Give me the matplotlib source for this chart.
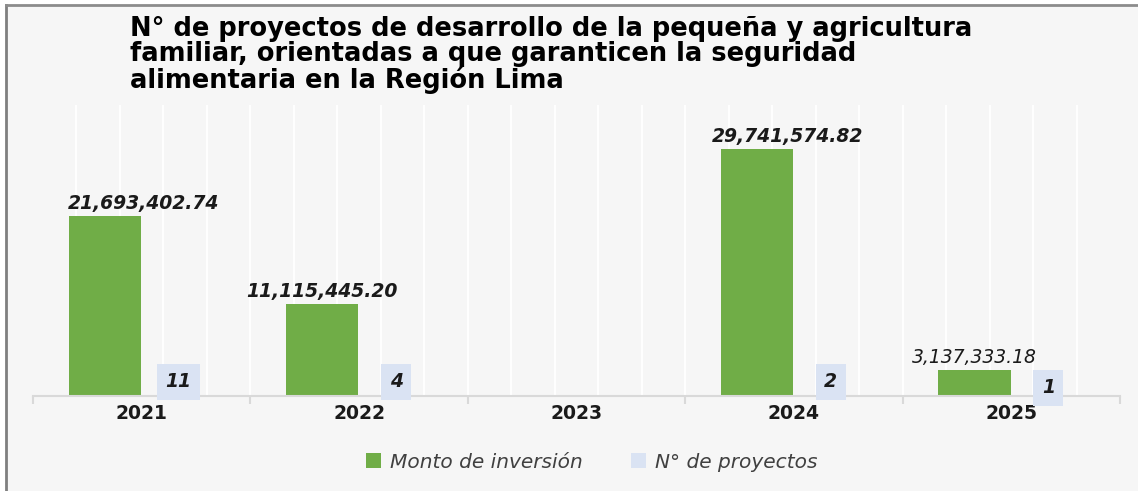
import numpy as np
import matplotlib
matplotlib.use("Agg")
import matplotlib.pyplot as plt
from matplotlib.patches import Rectangle, Patch
from matplotlib.lines import Line2D

plt.rcParams['font.family'] = ['DejaVu Sans']

# datos
anios = ['2021', '2022', '2023', '2024', '2025']
monto = [21693402.74, 11115445.20, np.nan, 29741574.82, 3137333.18]
n_proyectos = [11, 4, np.nan, 2, 1]

titulo = ("N° de proyectos de desarrollo de la pequeña y agricultura\n"
          "familiar, orientadas a que garanticen la seguridad\n"
          "alimentaria en la Región Lima")

verde = '#70ad47'
celeste = '#dae3f3'
fondo = '#f6f6f6'

W, H = 1138, 491
fig = plt.figure(figsize=(W / 100, H / 100), dpi=100)
fig.patch.set_facecolor('white')

# marco del grafico
fig.patches.append(Rectangle((6 / W, 0), 1, 1 - 5 / H, transform=fig.transFigure,
                             facecolor=fondo, edgecolor='none', zorder=-10))
fig.lines.append(Line2D([6 / W, 6 / W], [0, 1 - 5 / H], transform=fig.transFigure,
                        color='#7f7f7f', lw=2))
fig.lines.append(Line2D([6 / W, 1], [1 - 5 / H, 1 - 5 / H], transform=fig.transFigure,
                        color='#8c8c8c', lw=2))

ax = fig.add_axes([33 / W, (H - 396) / H, (1120 - 33) / W, (396 - 105) / H])
ax.set_facecolor('none')

x = np.arange(len(anios))
ancho = 0.333
b1 = ax.bar(x - 0.17, monto, ancho, color=verde, zorder=3)
b2 = ax.bar(x + 0.17, n_proyectos, ancho, color=celeste, zorder=3)

ax.set_xlim(-0.5, len(anios) - 0.5)
ax.set_ylim(0, 35e6)

# lineas verticales blancas
for g in np.arange(-0.5, len(anios) - 0.5, 0.2)[1:]:
    ax.axvline(g, color='white', lw=1.3, zorder=1)

# etiquetas de monto
desp_x = [39, 0, 0, 31, 0]
peso = ['bold', 'bold', 'bold', 'bold', 'normal']
for i, v in enumerate(monto):
    if np.isnan(v):
        continue
    ax.annotate(f"{v:,.2f}", (x[i] - 0.17, v), xytext=(desp_x[i] * 0.72, 2),
                textcoords='offset points', ha='center', va='bottom',
                fontsize=13.5, fontstyle='italic', fontweight=peso[i], color='#1a1a1a')

# etiquetas de numero de proyectos
desp_y = [14, 14, 14, 14, 8]
for i, v in enumerate(n_proyectos):
    if np.isnan(v):
        continue
    ax.annotate(f"{int(v)}", (x[i] + 0.17, v), xytext=(0, desp_y[i] * 0.72),
                textcoords='offset points', ha='center', va='center',
                fontsize=13.5, fontstyle='italic', fontweight='bold', color='#1a1a1a',
                bbox=dict(boxstyle='square,pad=0.45', facecolor=celeste, edgecolor='none'),
                zorder=5)

for s in ['top', 'right', 'left']:
    ax.spines[s].set_visible(False)
ax.spines['bottom'].set_color('#d9d9d9')
ax.spines['bottom'].set_linewidth(1.5)
ax.spines['bottom'].set_zorder(4)
ax.set_yticks([])
ax.set_xticks(x)
ax.set_xticklabels(anios, fontsize=13.5, fontweight='bold', color='#1a1a1a')
ax.tick_params(axis='x', which='major', length=0, pad=6)
ax.set_xticks(np.arange(-0.5, len(anios), 1.0), minor=True)
ax.tick_params(axis='x', which='minor', length=6, width=1.5, color='#d9d9d9')

fig.text(130 / W, 1 - 16 / H, titulo, ha='left', va='top', fontsize=18.5,
         fontweight='bold', color='black', linespacing=0.96)

handles = [Patch(facecolor=verde, edgecolor='none', label='Monto de inversión'),
           Patch(facecolor=celeste, edgecolor='none', label='N° de proyectos')]
fig.legend(handles=handles, loc='center', bbox_to_anchor=(592 / W, 1 - 462 / H),
           ncol=2, frameon=False, handlelength=0.75, handleheight=0.75,
           handletextpad=0.45, columnspacing=2.4,
           prop=dict(size=14.5, style='italic'), labelcolor='#404040')

fig.savefig('out.png', dpi=100, facecolor=fig.get_facecolor())
